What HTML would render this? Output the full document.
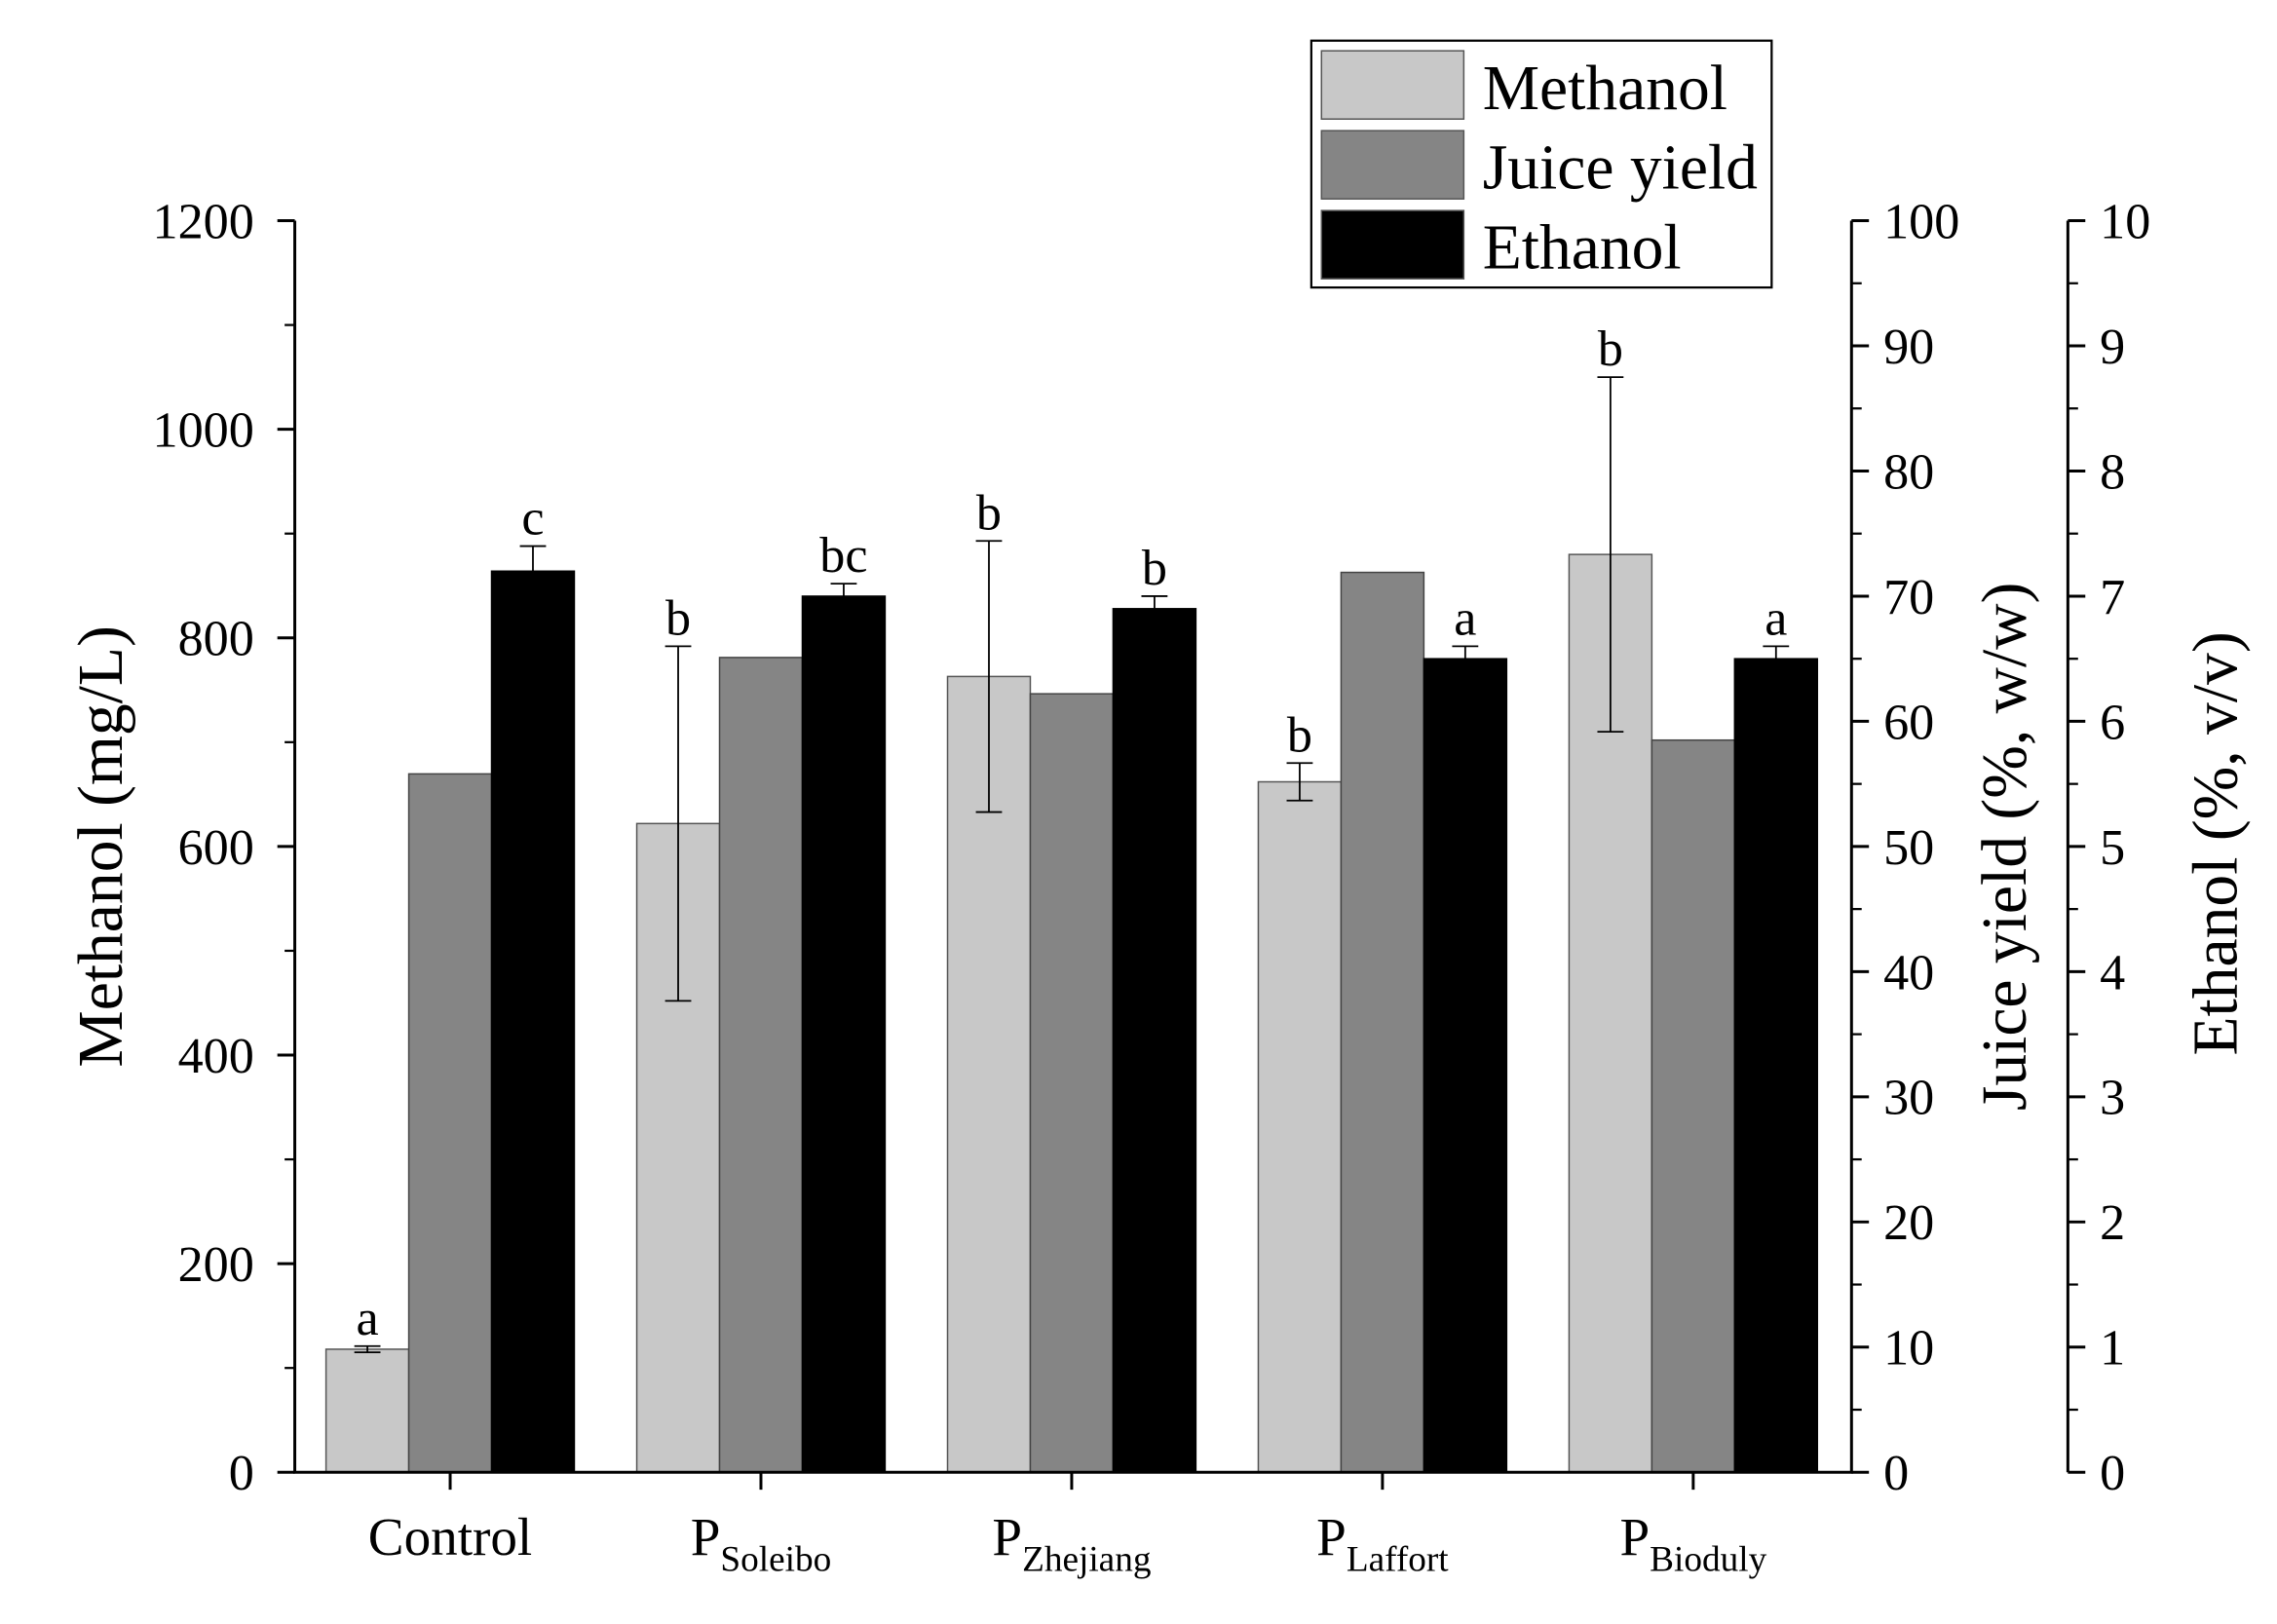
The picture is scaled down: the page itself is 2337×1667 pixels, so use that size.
<!DOCTYPE html>
<html><head><meta charset="utf-8"><style>
html,body{margin:0;padding:0;background:#fff;}
svg{display:block;font-family:"Liberation Serif",serif;}
</style></head><body>
<svg id="chart" width="2337" height="1667" viewBox="0 0 1568 1118.5" preserveAspectRatio="none" xmlns="http://www.w3.org/2000/svg"></svg>
<script>
const categories = ["Control", "Soleibo", "Zhejiang", "Laffort", "Bioduly"];
const methanol = [118, 622, 763, 662, 880];
const methanolErr = [3, 170, 130, 18, 170];
const methanolLetters = ["a", "b", "b", "b", "b"];
const juiceYield = [55.8, 65.1, 62.2, 71.9, 58.5];
const ethanol = [7.2, 7.0, 6.9, 6.5, 6.5];
const ethanolErr = [0.2, 0.1, 0.1, 0.1, 0.1];
const ethanolLetters = ["c", "bc", "b", "a", "a"];
const leftTicks = [0, 200, 400, 600, 800, 1000, 1200];
const juiceTicks = [0,10,20,30,40,50,60,70,80,90,100];
const ethTicks = [0,1,2,3,4,5,6,7,8,9,10];

const NS="http://www.w3.org/2000/svg";
const svg=document.getElementById('chart');
const X0=203, X1=1275, X2=1424, Y0=1014, Y1=152;
const yM=v=>Y0-(v/1200)*(Y0-Y1);
const yJ=v=>Y0-(v/100)*(Y0-Y1);
const yE=v=>Y0-(v/10)*(Y0-Y1);
const xC=i=>310+i*214;
const BW=57;
function el(tag,attrs,name,inter){const e=document.createElementNS(NS,tag);for(const k in attrs)e.setAttribute(k,attrs[k]);


svg.appendChild(e);return e;}
function txt(x,y,s,size,anchor,name,extra){const t=el('text',Object.assign({x:x,y:y,'font-size':size,'text-anchor':anchor||'middle',fill:'#000'},extra||{}),name,false);t.textContent=s;return t;}

categories.forEach((c,i)=>{
  const l=xC(i)-85.5;
  el('rect',{x:l,y:yM(methanol[i]),width:BW,height:Y0-yM(methanol[i]),fill:'#c8c8c8',stroke:'#555','stroke-width':1},'bar-methanol-'+c.toLowerCase(),false);
  el('rect',{x:l+BW,y:yJ(juiceYield[i]),width:BW,height:Y0-yJ(juiceYield[i]),fill:'#858585',stroke:'#444','stroke-width':1},'bar-juice-yield-'+c.toLowerCase(),false);
  el('rect',{x:l+2*BW,y:yE(ethanol[i]),width:BW,height:Y0-yE(ethanol[i]),fill:'#000',stroke:'#000','stroke-width':1},'bar-ethanol-'+c.toLowerCase(),false);
  const mx=l+BW/2, mt=yM(methanol[i]+methanolErr[i]), mb=yM(methanol[i]-methanolErr[i]);
  el('path',{d:`M${mx},${mt}V${mb}M${mx-9},${mt}H${mx+9}M${mx-9},${mb}H${mx+9}`,stroke:'#000','stroke-width':1.2,fill:'none'},'error-bar-methanol',false);
  txt(mx,mt-8,methanolLetters[i],35,'middle','sig-letter-methanol');
  const ex=l+2.5*BW, et=yE(ethanol[i]+ethanolErr[i]), eb=yE(ethanol[i]-ethanolErr[i]);
  el('path',{d:`M${ex},${et}V${eb}M${ex-9},${et}H${ex+9}M${ex-9},${eb}H${ex+9}`,stroke:'#000','stroke-width':1.2,fill:'none'},'error-bar-ethanol',false);
  txt(ex,et-8,ethanolLetters[i],35,'middle','sig-letter-ethanol');
});

el('path',{d:`M${X0},${Y1}V${Y0}H${X1}V${Y1}M${X2},${Y1}V${Y0}`,stroke:'#000','stroke-width':2,fill:'none'},'axes-lines',false);
leftTicks.forEach(v=>{el('line',{x1:X0-12,x2:X0,y1:yM(v),y2:yM(v),stroke:'#000','stroke-width':2},'y-tick-left',false);
  txt(X0-28,yM(v)+12,String(v),35,'end','y-tick-label-left');});
for(let v=100;v<1200;v+=200) el('line',{x1:X0-7,x2:X0,y1:yM(v),y2:yM(v),stroke:'#000','stroke-width':1.5},'y-minor-tick-left',false);
juiceTicks.forEach(v=>{el('line',{x1:X1,x2:X1+12,y1:yJ(v),y2:yJ(v),stroke:'#000','stroke-width':2},'y-tick-juice',false);
  txt(X1+22,yJ(v)+12,String(v),35,'start','y-tick-label-juice');});
for(let v=5;v<100;v+=10) el('line',{x1:X1,x2:X1+7,y1:yJ(v),y2:yJ(v),stroke:'#000','stroke-width':1.5},'y-minor-tick-juice',false);
ethTicks.forEach(v=>{el('line',{x1:X2,x2:X2+12,y1:yE(v),y2:yE(v),stroke:'#000','stroke-width':2},'y-tick-ethanol',false);
  txt(X2+22,yE(v)+12,String(v),35,'start','y-tick-label-ethanol');});
for(let v=0.5;v<10;v+=1) el('line',{x1:X2,x2:X2+7,y1:yE(v),y2:yE(v),stroke:'#000','stroke-width':1.5},'y-minor-tick-ethanol',false);
categories.forEach((c,i)=>{
  el('line',{x1:xC(i),x2:xC(i),y1:Y0,y2:Y0+12,stroke:'#000','stroke-width':2},'x-tick',false);
  const t=txt(xC(i),1071,'',37,'middle','x-tick-label-'+c.toLowerCase());
  if(i===0){t.textContent=c;}
  else{const a=document.createElementNS(NS,'tspan');a.textContent='P';t.appendChild(a);
    const b=document.createElementNS(NS,'tspan');b.setAttribute('font-size','25');b.setAttribute('dy','11');b.textContent=c;t.appendChild(b);}
});
txt(0,0,'Methanol (mg/L)',44,'middle','y-axis-title-methanol',{transform:`translate(84,583) rotate(-90)`});
txt(0,0,'Juice yield (%, w/w)',44,'middle','y-axis-title-juice-yield',{transform:`translate(1395,583) rotate(-90)`});
txt(0,0,'Ethanol (%, v/v)',44,'middle','y-axis-title-ethanol',{transform:`translate(1540,581) rotate(-90)`});
el('rect',{x:903,y:28,width:317,height:170,fill:'#fff',stroke:'#000','stroke-width':1.5},'legend-box',false);
[['Methanol','#c8c8c8'],['Juice yield','#858585'],['Ethanol','#000']].forEach((d,k)=>{
  el('rect',{x:910,y:35+k*55,width:98,height:47,fill:d[1],stroke:'#555','stroke-width':1},'legend-swatch',false);
  txt(1021,75+k*55,d[0],44,'start','legend-entry');
});
</script>
</body></html>
